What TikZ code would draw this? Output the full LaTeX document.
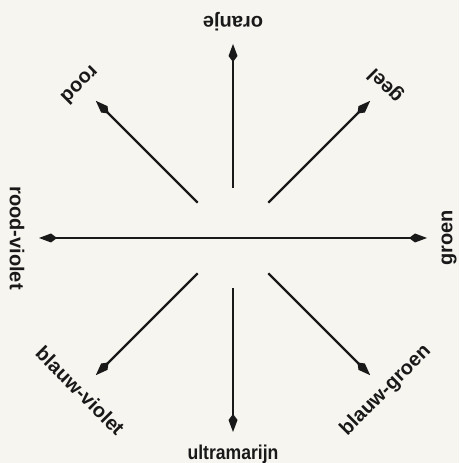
\documentclass[tikz,border=0pt]{standalone}
\usepackage{fontspec}
\setmainfont{Liberation Sans}
\usetikzlibrary{arrows.meta}
\definecolor{bg}{RGB}{247,245,240}
\definecolor{ink}{RGB}{25,25,25}
\begin{document}
\begin{tikzpicture}[x=1pt,y=1pt,
  >={Kite[length=18pt,width=9pt,inset=6pt]},
  ray/.style={draw=ink, line width=2.3pt},
  lab/.style={font=\bfseries\fontsize{20}{24}\selectfont, text=ink, inner sep=0pt, anchor=center}]
\fill[bg] (0,0) rectangle (459,463);
\useasboundingbox (0,0) rectangle (459,463);
\coordinate (c) at (233,225);
\foreach \a/\t/\n/\xs in {90/oranje/N/1, 45/geel/NE/1, 135/rood/NW/1, 0/groen/E/1, 180/rood-violet/W/1, 270/ultramarijn/S/0.88, 225/blauw-violet/SW/1, 315/blauw-groen/SE/1}{
  \coordinate (s\n) at ([shift={(\a:50)}]c);
  \coordinate (e\n) at ([shift={(\a:194)}]c);
  \pgfmathsetmacro{\r}{\a+90}
  \node[lab, rotate=\r, xscale=\xs] (l\n) at ([shift={(\a:216)}]c) {\t};
}
\draw[ray,->] (sN) -- (eN);
\draw[ray,->] (sNE) -- (eNE);
\draw[ray,->] (sNW) -- (eNW);
\draw[ray,->] (sS) -- (eS);
\draw[ray,->] (sSW) -- (eSW);
\draw[ray,->] (sSE) -- (eSE);
\draw[ray,<->] (eW) -- (eE);
\end{tikzpicture}
\end{document}
